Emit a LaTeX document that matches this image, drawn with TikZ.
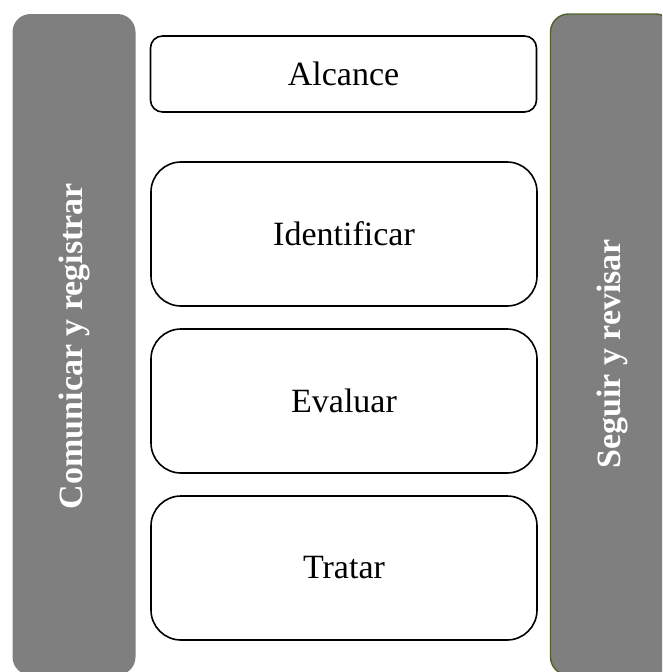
\documentclass[tikz,border=0pt]{standalone}
\usepackage{fontspec}
\setmainfont{Liberation Serif}
\definecolor{bargray}{HTML}{7F7F7F}
\definecolor{bargreen}{HTML}{4F6228}
\begin{document}
\begin{tikzpicture}[x=1pt,y=-1pt,
  stagebox/.style={draw=black, line width=1.6pt, fill=white, rounded corners=#1,
    minimum width=386pt, inner sep=0pt, font=\fontsize{34}{40}\selectfont},
  sidebar/.style={fill=bargray, rounded corners=18pt, minimum width=123pt,
    minimum height=661pt, inner sep=0pt},
  sidelabel/.style={text=white, rotate=90, font=\bfseries\fontsize{34}{40}\selectfont}
]
\useasboundingbox (0,0) rectangle (662,672);
\clip (0,0) rectangle (662,672);
\node[sidebar] (left) at (74,344.5) {};
\node[sidebar, draw=bargreen, line width=1.4pt] (right) at (612,344.5) {};
\node[sidelabel] (leftlabel) at (74,346) {Comunicar y registrar};
\node[sidelabel] (rightlabel) at (612,354) {Seguir y revisar};
\node[stagebox=12pt, minimum height=76pt] (alcance) at (343.5,74) {Alcance};
\node[stagebox=30pt, minimum height=144pt] (identificar) at (344,234) {Identificar};
\node[stagebox=30pt, minimum height=144pt] (evaluar) at (344,401) {Evaluar};
\node[stagebox=30pt, minimum height=144pt] (tratar) at (344,568) {Tratar};
\end{tikzpicture}
\end{document}
